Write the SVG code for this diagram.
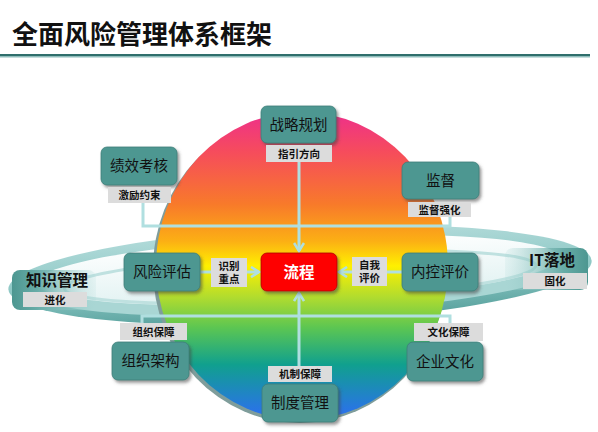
<svg xmlns="http://www.w3.org/2000/svg" width="598" height="432" viewBox="0 0 598 432">
<defs>
  <linearGradient id="sphereGrad" x1="0" y1="0" x2="0" y2="1">
    <stop offset="0" stop-color="#ee2f8c"/>
    <stop offset="0.13" stop-color="#f64c5c"/>
    <stop offset="0.3" stop-color="#f87a2a"/>
    <stop offset="0.42" stop-color="#fcb014"/>
    <stop offset="0.5" stop-color="#fff000"/>
    <stop offset="0.6" stop-color="#b2dc2e"/>
    <stop offset="0.7" stop-color="#5cc652"/>
    <stop offset="0.82" stop-color="#10a08e"/>
    <stop offset="1" stop-color="#2e6cf6"/>
  </linearGradient>
  <linearGradient id="ringGrad" x1="0" y1="0" x2="0" y2="1">
    <stop offset="0" stop-color="#b4dcdb"/>
    <stop offset="0.55" stop-color="#8cc7c4"/>
    <stop offset="1" stop-color="#559f9b"/>
  </linearGradient>
  <linearGradient id="ringInner" x1="0" y1="0" x2="0" y2="1">
    <stop offset="0" stop-color="#ffffff"/>
    <stop offset="1" stop-color="#dff1f1"/>
  </linearGradient>
  <linearGradient id="endL" x1="0" y1="0" x2="1" y2="0">
    <stop offset="0" stop-color="#4d9791"/>
    <stop offset="0.3" stop-color="#68aca7"/>
    <stop offset="1" stop-color="#a9d6d4" stop-opacity="0.15"/>
  </linearGradient>
  <linearGradient id="endR" x1="1" y1="0" x2="0" y2="0">
    <stop offset="0" stop-color="#4d9791"/>
    <stop offset="0.3" stop-color="#68aca7"/>
    <stop offset="1" stop-color="#a9d6d4" stop-opacity="0.15"/>
  </linearGradient>
  <filter id="shadow" x="-20%" y="-20%" width="150%" height="160%">
    <feDropShadow dx="2" dy="2.5" stdDeviation="1.5" flood-color="#444" flood-opacity="0.55"/>
  </filter>
  <marker id="arrow" viewBox="0 0 12 12" refX="10" refY="6" markerWidth="12" markerHeight="12" markerUnits="userSpaceOnUse" orient="auto">
    <path d="M2,1 L10,6 L2,11" fill="none" stroke="#b0dfe0" stroke-width="2.6"/>
  </marker>
</defs>
<style>
  .node { fill: #4d9791; stroke: #3c7d78; stroke-width: 0.8; filter: url(#shadow); }
  .ntext { font-family: "Noto Sans CJK SC", "Noto Sans", sans-serif; font-size: 14.5px; fill: #111; text-anchor: middle; }
  .lbl { fill: #dcdcdc; }
  .ltext { font-family: "Noto Sans CJK SC", "Noto Sans", sans-serif; font-size: 10.5px; font-weight: bold; fill: #111; text-anchor: middle; }
  .conn { fill: none; stroke: #b0dfe0; stroke-width: 3; }
</style>
<rect width="598" height="432" fill="#ffffff"/>

<!-- Title -->
<text x="12" y="44" font-family="Noto Sans CJK SC, sans-serif" font-size="26" font-weight="bold" fill="#111">全面风险管理体系框架</text>
<rect x="0" y="54" width="590" height="2" fill="#2f6f6c"/>
<rect x="0" y="56" width="590" height="1.5" fill="#8fbdbb"/>

<!-- Ring -->
<g id="ring" transform="rotate(-2.8 300 274)">
  <ellipse cx="300" cy="275" rx="292" ry="48" fill="url(#ringGrad)"/>
  <ellipse cx="300" cy="278" rx="270" ry="36" fill="#a9d6d4"/>
  <ellipse cx="298" cy="270" rx="262" ry="33" fill="url(#ringInner)"/>
  <ellipse cx="300" cy="277" rx="236" ry="24" fill="none" stroke="#bfe1e0" stroke-width="3"/>
</g>

<!-- Ring end nodes -->
<g id="node-zhishi">
  <rect x="12" y="270" width="84" height="40" rx="8" fill="url(#endL)"/>
  <text x="57" y="286" font-family="Noto Sans CJK SC, sans-serif" font-size="15.5" font-weight="bold" fill="#111" text-anchor="middle">知识管理</text>
  <rect class="lbl" x="23" y="292" width="64" height="15"/>
  <text class="ltext" x="55" y="303.5">进化</text>
</g>
<g id="node-it">
  <rect x="505" y="248" width="83" height="42" rx="8" fill="url(#endR)"/>
  <text x="552" y="266" font-family="Noto Sans CJK SC, sans-serif" font-size="15.5" font-weight="bold" fill="#111" text-anchor="middle">IT落地</text>
  <rect class="lbl" x="523" y="273" width="64" height="16"/>
  <text class="ltext" x="555" y="285">固化</text>
</g>

<!-- Sphere -->
<ellipse cx="300" cy="269" rx="147" ry="154" fill="#7f9d9b"/>
<ellipse cx="302" cy="266" rx="146" ry="154" fill="url(#sphereGrad)"/>

<!-- Connectors -->
<g id="connectors">
  <polyline class="conn" points="143,203 143,226 450,226 450,217"/>
  <polyline class="conn" points="142,323 142,316 450,316 450,323"/>
  <line class="conn" x1="299" y1="162" x2="299" y2="251" marker-end="url(#arrow)"/>
  <line class="conn" x1="299" y1="366" x2="299" y2="293" marker-end="url(#arrow)"/>
  <line class="conn" x1="200" y1="272" x2="259" y2="272" marker-end="url(#arrow)"/>
  <line class="conn" x1="402" y1="272" x2="339" y2="272" marker-end="url(#arrow)"/>
</g>

<!-- Nodes -->
<g id="node-zhanlue">
  <rect class="node" x="261" y="106" width="75" height="37" rx="6"/>
  <text class="ntext" x="298.5" y="129.5">战略规划</text>
  <rect class="lbl" x="266" y="145" width="66" height="17"/>
  <text class="ltext" x="299" y="157.5">指引方向</text>
</g>
<g id="node-jixiao">
  <rect class="node" x="101" y="147" width="76" height="38" rx="6"/>
  <text class="ntext" x="139" y="171">绩效考核</text>
  <rect class="lbl" x="108" y="187" width="63" height="16"/>
  <text class="ltext" x="139.5" y="199">激励约束</text>
</g>
<g id="node-jiandu">
  <rect class="node" x="402" y="162" width="77" height="37" rx="6"/>
  <text class="ntext" x="440.5" y="185.5">监督</text>
  <rect class="lbl" x="408" y="202" width="63" height="15"/>
  <text class="ltext" x="439.5" y="213.5">监督强化</text>
</g>
<g id="node-fengxian">
  <rect class="node" x="124" y="253" width="76" height="38" rx="6"/>
  <text class="ntext" x="162" y="277">风险评估</text>
</g>
<g id="label-shibie">
  <rect class="lbl" x="211" y="258" width="36" height="29"/>
  <text class="ltext" x="229" y="269.5">识别</text>
  <text class="ltext" x="229" y="283">重点</text>
</g>
<g id="node-liucheng">
  <rect x="261" y="253" width="76" height="38" rx="6" fill="#fe0000" stroke="#b00000" stroke-width="0.8" filter="url(#shadow)"/>
  <text x="299" y="277.5" font-family="Noto Sans CJK SC, sans-serif" font-size="15.5" font-weight="bold" fill="#ffffff" text-anchor="middle">流程</text>
</g>
<g id="label-ziwo">
  <rect class="lbl" x="352" y="257" width="35" height="29"/>
  <text class="ltext" x="369.5" y="268.5">自我</text>
  <text class="ltext" x="369.5" y="282">评价</text>
</g>
<g id="node-neikong">
  <rect class="node" x="402" y="253" width="76" height="38" rx="6"/>
  <text class="ntext" x="440" y="277">内控评价</text>
</g>
<g id="node-zuzhi">
  <rect class="lbl" x="120" y="323" width="67" height="17"/>
  <text class="ltext" x="153.5" y="335.5">组织保障</text>
  <rect class="node" x="112" y="342" width="77" height="38" rx="6"/>
  <text class="ntext" x="150.5" y="366">组织架构</text>
</g>
<g id="node-zhidu">
  <rect class="lbl" x="268" y="366" width="64" height="16"/>
  <text class="ltext" x="300" y="378">机制保障</text>
  <rect class="node" x="262" y="384" width="76" height="38" rx="6"/>
  <text class="ntext" x="300" y="408">制度管理</text>
</g>
<g id="node-qiye">
  <rect class="lbl" x="414" y="323" width="69" height="18"/>
  <text class="ltext" x="448.5" y="336">文化保障</text>
  <rect class="node" x="407" y="342" width="76" height="39" rx="6"/>
  <text class="ntext" x="445" y="366.5">企业文化</text>
</g>
</svg>
